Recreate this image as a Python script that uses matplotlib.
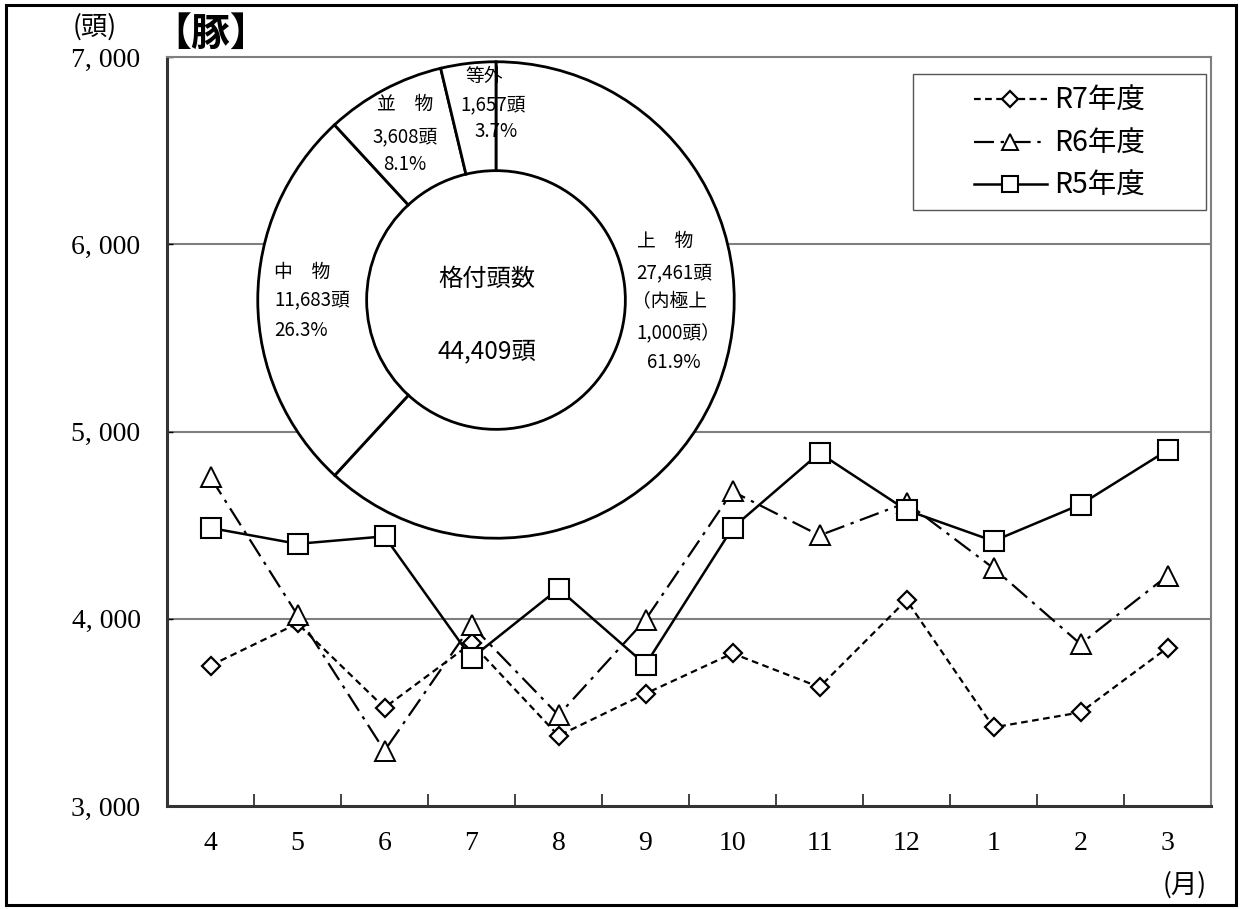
import matplotlib
matplotlib.use("Agg")
import matplotlib.pyplot as plt
from matplotlib.patches import Rectangle, Circle
from matplotlib.ticker import FixedLocator, NullFormatter

# ---------------- data ----------------
months = ['4', '5', '6', '7', '8', '9', '10', '11', '12', '1', '2', '3']
r7 = [3750, 3975, 3525, 3870, 3375, 3600, 3815, 3635, 4100, 3420, 3500, 3845]
r6 = [4755, 4020, 3295, 3965, 3485, 3995, 4680, 4445, 4620, 4270, 3865, 4230]
r5 = [4485, 4400, 4440, 3790, 4160, 3755, 4485, 4885, 4580, 4415, 4610, 4900]
series_labels = ['R7年度', 'R6年度', 'R5年度']

y_ticks = [3000, 4000, 5000, 6000, 7000]
y_tick_labels = ['3, 000', '4, 000', '5, 000', '6, 000', '7, 000']

grade_names = ['上\u3000物', '中\u3000物', '並\u3000物', '等外']
grade_counts = [27461, 11683, 3608, 1657]
grade_pcts = ['61.9%', '26.3%', '8.1%', '3.7%']
total_count = 44409

SERIF = ['Liberation Serif', 'DejaVu Serif']
SANS = ['Noto Sans CJK JP', 'DejaVu Sans']
plt.rcParams['font.family'] = SANS

W, H = 1241, 909
fig = plt.figure(figsize=(W / 100, H / 100), dpi=100)

# outer frame
fig.patches.append(Rectangle((6 / W, 4 / H), (W - 11) / W, (H - 9) / H,
                             transform=fig.transFigure, fill=False,
                             edgecolor='black', linewidth=2.2, zorder=0))

L, R, T, B = 167, 1211, 57, 806
ax = fig.add_axes([L / W, 1 - B / H, (R - L) / W, (B - T) / H])

x = list(range(len(months)))
ax.plot(x, r7, linestyle=(0, (3, 2)), color='black', linewidth=1.6,
        marker='D', markersize=9, markerfacecolor='white',
        markeredgecolor='black', markeredgewidth=1.6, label=series_labels[0], zorder=3)
ax.plot(x, r6, linestyle=(0, (9, 3, 1.5, 3)), color='black', linewidth=1.6,
        marker='^', markersize=14, markerfacecolor='white',
        markeredgecolor='black', markeredgewidth=1.4, label=series_labels[1], zorder=4)
ax.plot(x, r5, linestyle='-', color='black', linewidth=1.8,
        marker='s', markersize=14, markerfacecolor='white',
        markeredgecolor='black', markeredgewidth=1.5, label=series_labels[2], zorder=5)

ax.set_xlim(-0.5, len(months) - 0.5)
ax.set_ylim(3000, 7000)
ax.set_yticks(y_ticks)
ax.set_yticklabels(y_tick_labels, fontfamily=SERIF, fontsize=20)
ax.set_xticks(x)
ax.set_xticklabels(months, fontfamily=SERIF, fontsize=20)
ax.xaxis.set_minor_locator(FixedLocator([i + 0.5 for i in range(len(months) - 1)]))
ax.xaxis.set_minor_formatter(NullFormatter())
ax.tick_params(axis='x', which='major', length=0, pad=18)
ax.tick_params(axis='x', which='minor', direction='in', length=9, width=1.2, color='#222222')
ax.tick_params(axis='y', which='major', direction='in', length=4, width=1, pad=19)
for yv in y_ticks[1:-1]:
    ax.axhline(yv, color='#7f7f7f', linewidth=1.5, zorder=1)
for s in ['left', 'bottom']:
    ax.spines[s].set_linewidth(2.2)
    ax.spines[s].set_color('#333333')
for s in ['top', 'right']:
    ax.spines[s].set_linewidth(1.5)
    ax.spines[s].set_color('#7f7f7f')

# legend: frame drawn separately
ax.add_patch(Rectangle((913 / W, 1 - 210 / H), (1206 - 913) / W, (210 - 74) / H,
                       transform=fig.transFigure, facecolor='white', clip_on=False,
                       edgecolor='#555555', linewidth=1.0, zorder=8))
leg = ax.legend(loc='upper left', bbox_to_anchor=(974 / W, 1 - 86 / H),
                bbox_transform=fig.transFigure, frameon=False, markerscale=0.85,
                handlelength=2.55, handletextpad=0.28, labelspacing=0.44,
                borderpad=0.0, borderaxespad=0.0, prop={'family': SANS, 'size': 20.5})
leg.set_zorder(20)

fig.text(95 / W, 1 - 27 / H, '(頭)', ha='center', va='center',
         fontsize=19, fontfamily=['Noto Sans CJK JP'])
fig.text(211 / W, 1 - 34 / H, '【豚】', ha='center', va='center',
         fontsize=28, fontweight='bold', fontfamily=['Noto Sans CJK JP'])
fig.text(1185 / W, 1 - 885 / H, '(月)', ha='center', va='center',
         fontsize=19, fontfamily=['Noto Sans CJK JP'])

# ---------------- donut ----------------
cx, cy, rad = 496, 300, 243
pax = fig.add_axes([(cx - rad) / W, 1 - (cy + rad) / H, 2 * rad / W, 2 * rad / H])
pax.set_zorder(10)
pax.add_patch(Circle((0, 0), 1.0, facecolor='white', edgecolor='none', zorder=0))
pax.pie(grade_counts, startangle=90, counterclock=False, radius=1.0,
        colors=['white'] * 4,
        wedgeprops=dict(width=0.457, edgecolor='black', linewidth=2.0))
pax.set_xlim(-1.02, 1.02)
pax.set_ylim(-1.02, 1.02)
pax.set_aspect('equal')
pax.axis('off')

fs = 13.5
# 上物
pax.text(0.59, 0.247, grade_names[0], ha='left', va='center', fontsize=fs)
pax.text(0.59, 0.115, f'{grade_counts[0]:,}頭', ha='left', va='center', fontsize=fs)
pax.text(0.57, -0.008, '（内極上', ha='left', va='center', fontsize=fs)
pax.text(0.59, -0.136, '1,000頭）', ha='left', va='center', fontsize=fs)
pax.text(0.745, -0.263, grade_pcts[0], ha='center', va='center', fontsize=fs)
# 中物
pax.text(-0.93, 0.115, grade_names[1], ha='left', va='center', fontsize=fs)
pax.text(-0.93, 0.0, f'{grade_counts[1]:,}頭', ha='left', va='center', fontsize=fs)
pax.text(-0.93, -0.128, grade_pcts[1], ha='left', va='center', fontsize=fs)
# 並物
pax.text(-0.383, 0.819, grade_names[2], ha='center', va='center', fontsize=fs)
pax.text(-0.383, 0.687, f'{grade_counts[2]:,}頭', ha='center', va='center', fontsize=fs)
pax.text(-0.383, 0.568, grade_pcts[2], ha='center', va='center', fontsize=fs)
# 等外
pax.text(-0.05, 0.938, grade_names[3], ha='center', va='center', fontsize=fs)
pax.text(-0.01, 0.819, f'{grade_counts[3]:,}頭', ha='center', va='center', fontsize=fs)
pax.text(0.0, 0.708, grade_pcts[3], ha='center', va='center', fontsize=fs)
# center
pax.text(-0.037, 0.09, '格付頭数', ha='center', va='center', fontsize=17.5)
pax.text(-0.037, -0.214, f'{total_count:,}頭', ha='center', va='center', fontsize=17.5)

fig.savefig('out.png', dpi=100, facecolor='white')
